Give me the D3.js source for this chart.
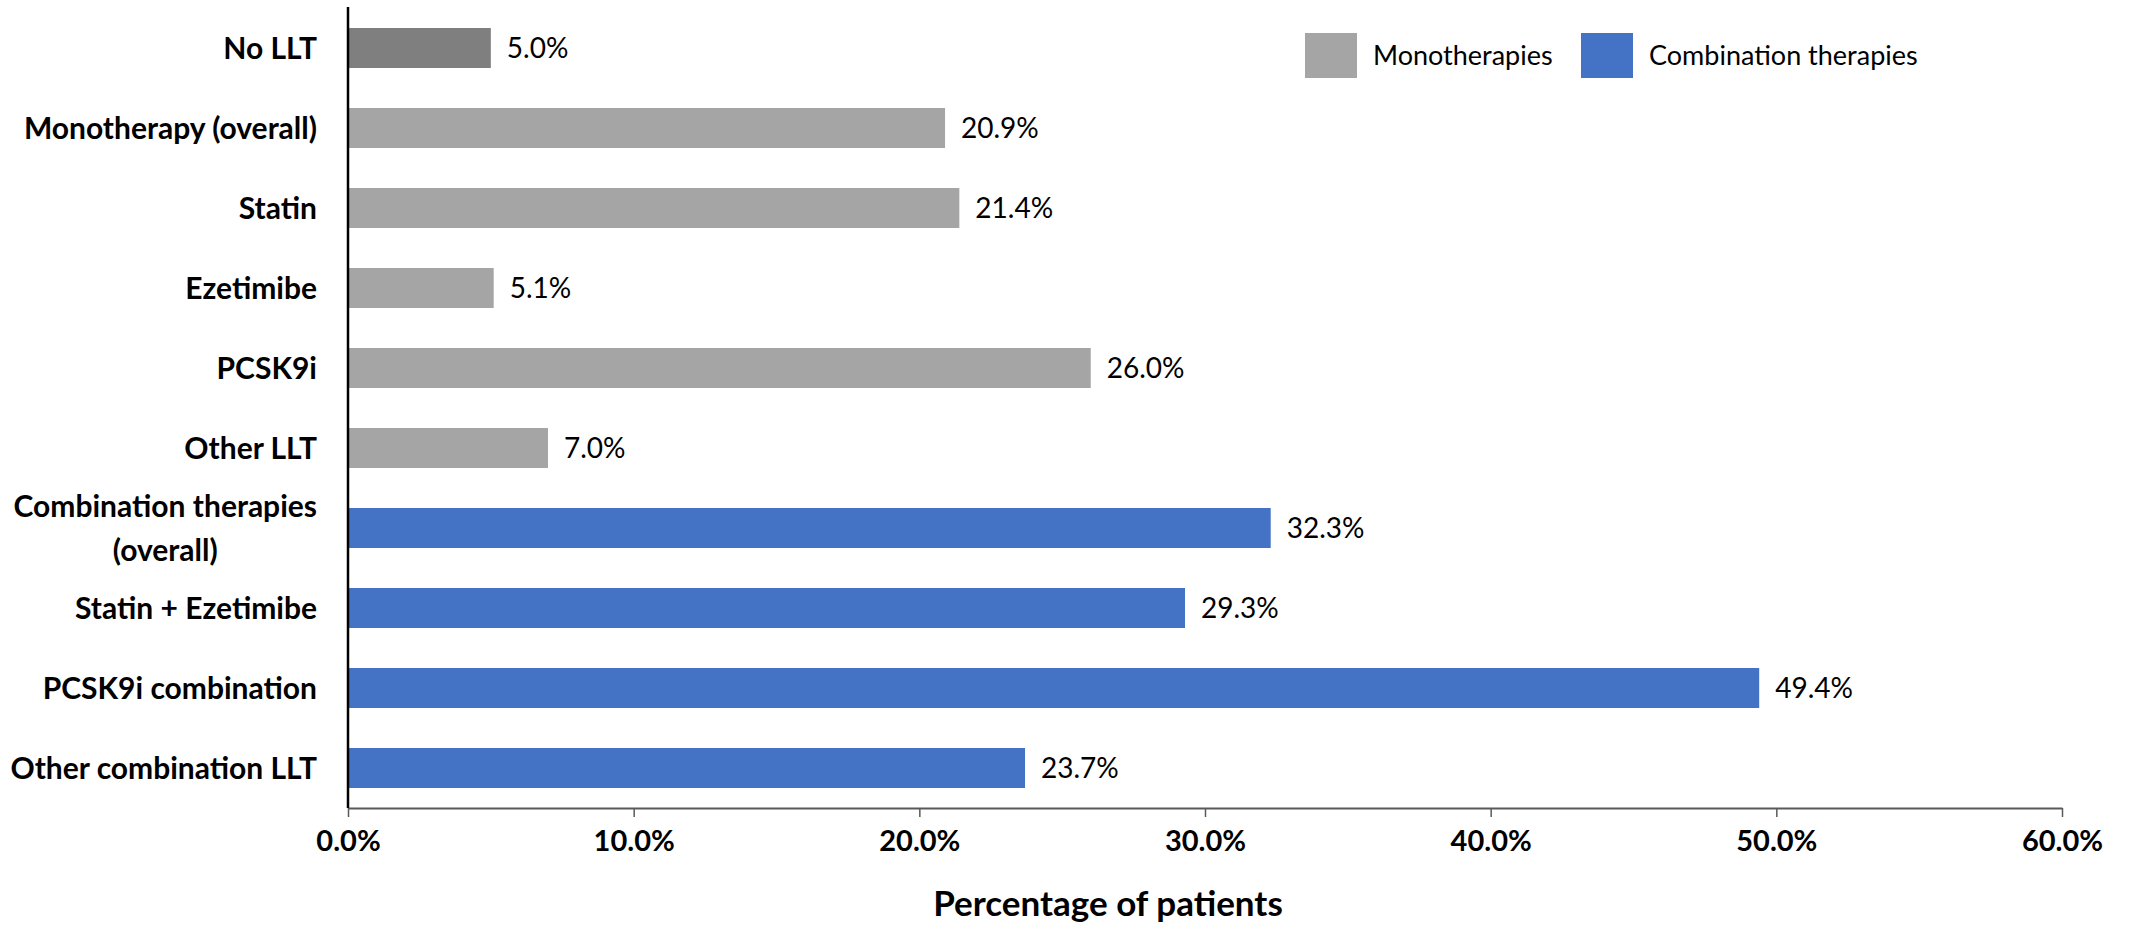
<!DOCTYPE html>
<html>
<head>
<meta charset="utf-8">
<script src="https://cdn.jsdelivr.net/npm/d3@7"></script>
<style>
  html, body { margin: 0; padding: 0; background: #fff; }
  svg { display: block; font-family: Lato, "Open Sans", sans-serif; }
</style>
</head>
<body>
<svg id="chart" width="2131" height="932"></svg>
<script>
// Lipid-lowering therapy (LLT) categories, top to bottom
const categories = [
  "No LLT",
  "Monotherapy (overall)",
  "Statin",
  "Ezetimibe",
  "PCSK9i",
  "Other LLT",
  "Combination therapies (overall)",
  "Statin + Ezetimibe",
  "PCSK9i combination",
  "Other combination LLT"
];
// Percentage of patients in each category
const values = [5.0, 20.9, 21.4, 5.1, 26.0, 7.0, 32.3, 29.3, 49.4, 23.7];
// Therapy group of each category
const groups = ["none", "mono", "mono", "mono", "mono", "mono", "combo", "combo", "combo", "combo"];
// Axis ticks
const xTicks = [0, 10, 20, 30, 40, 50, 60];
// Legend entries
const legendGroups = ["mono", "combo"];
const legendLabels = ["Monotherapies", "Combination therapies"];

const colors = { none: "#7f7f7f", mono: "#a5a5a5", combo: "#4472c4" };

const svg = d3.select("#chart");
const margin = { left: 348, right: 69, top: 8, bottom: 124 };
const W = 2131, H = 932;

const x = d3.scaleLinear().domain([0, 60]).range([margin.left, W - margin.right]);
const y = d3.scaleBand().domain(categories).range([margin.top, H - margin.bottom]).paddingInner(0.5).paddingOuter(0.25);

// Bars
svg.append("g").selectAll("rect")
  .data(categories)
  .join("rect")
  .attr("x", x(0))
  .attr("y", d => y(d))
  .attr("width", (d, i) => x(values[i]) - x(0))
  .attr("height", y.bandwidth())
  .attr("fill", (d, i) => colors[groups[i]]);

// Value labels
svg.append("g").selectAll("text")
  .data(categories)
  .join("text")
  .attr("x", (d, i) => x(values[i]) + 16)
  .attr("y", d => y(d) + y.bandwidth() / 2)
  .attr("dy", "0.35em")
  .attr("font-size", 28)
  .attr("fill", "#000")
  .text((d, i) => values[i].toFixed(1) + "%");

// X axis
const xAxis = svg.append("g")
  .attr("transform", `translate(0,${H - margin.bottom})`)
  .call(d3.axisBottom(x).tickValues(xTicks).tickSize(9).tickSizeOuter(0).tickPadding(13)
    .tickFormat(d => d.toFixed(1) + "%"));
xAxis.select(".domain").attr("stroke", "#595959").attr("stroke-width", 2);
xAxis.selectAll(".tick line").attr("stroke", "#595959").attr("stroke-width", 1.5);
xAxis.selectAll(".tick text")
  .attr("font-family", "Lato, sans-serif")
  .attr("font-size", 29)
  .attr("font-weight", "bold")
  .attr("fill", "#000");

// Y axis line
svg.append("line")
  .attr("x1", x(0)).attr("x2", x(0))
  .attr("y1", 7).attr("y2", H - margin.bottom)
  .attr("stroke", "#000").attr("stroke-width", 2.5);

// Category labels (right aligned, multi-line labels centred as a block)
const labelRight = 317;
const catG = svg.append("g").attr("font-size", 30).attr("font-weight", "bold").attr("fill", "#000");
categories.forEach((c, i) => {
  const cy = y(c) + y.bandwidth() / 2;
  const m = c.match(/^(.*) (\(overall\))$/);
  if (m && c.length > 24) {
    const t = catG.append("text").attr("text-anchor", "middle");
    t.append("tspan").attr("x", 0).attr("y", cy - 22).attr("dy", "0.35em").text(m[1]);
    t.append("tspan").attr("x", 0).attr("y", cy + 22).attr("dy", "0.35em").text(m[2]);
    const w = t.node().getBBox().width;
    t.selectAll("tspan").attr("x", labelRight - w / 2);
  } else {
    catG.append("text")
      .attr("x", labelRight)
      .attr("y", cy)
      .attr("dy", "0.35em")
      .attr("text-anchor", "end")
      .text(c);
  }
});

// Axis title
svg.append("text")
  .attr("x", 1108)
  .attr("y", 904)
  .attr("dy", "0.35em")
  .attr("text-anchor", "middle")
  .attr("font-size", 35)
  .attr("font-weight", "bold")
  .text("Percentage of patients");

// Legend
const legendX = [1305, 1581];
const legend = svg.append("g");
legendGroups.forEach((g, i) => {
  legend.append("rect")
    .attr("x", legendX[i]).attr("y", 33)
    .attr("width", 52).attr("height", 45)
    .attr("fill", colors[g]);
  legend.append("text")
    .attr("x", legendX[i] + 68).attr("y", 56)
    .attr("dy", "0.35em")
    .attr("font-size", 27)
    .text(legendLabels[i]);
});
</script>
</body>
</html>
